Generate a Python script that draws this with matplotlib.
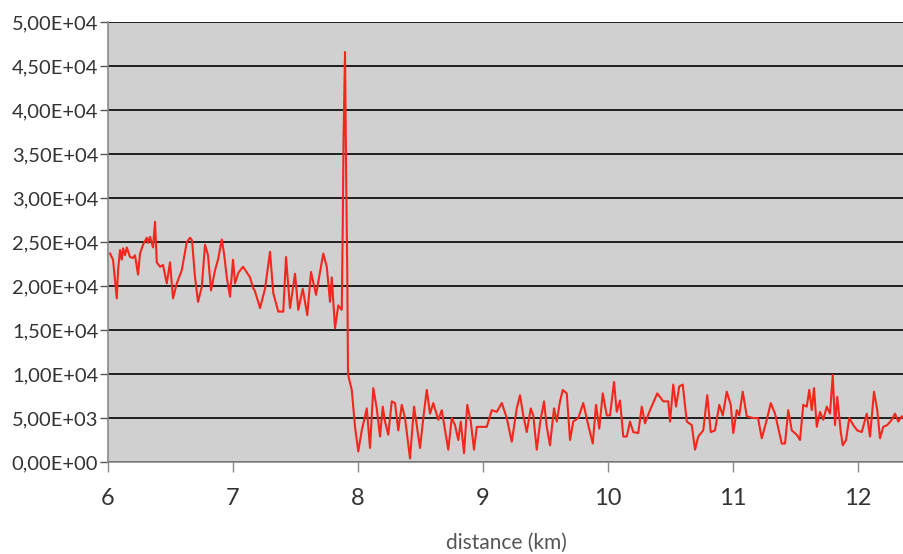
import numpy as np
import matplotlib
matplotlib.use("Agg")
import matplotlib.pyplot as plt
from matplotlib.ticker import FuncFormatter

# distance along the profile (km) and measured amplitude (x1000)
distance_km = [
    6.016, 6.040, 6.070, 6.080, 6.096, 6.110, 6.120, 6.136, 6.150, 6.176,
    6.200, 6.216, 6.240, 6.256, 6.280, 6.310, 6.320, 6.336, 6.360, 6.376,
    6.390, 6.416, 6.440, 6.470, 6.496, 6.520, 6.550, 6.590, 6.630, 6.656,
    6.672, 6.696, 6.720, 6.750, 6.776, 6.800, 6.824, 6.856, 6.880, 6.910,
    6.928, 6.950, 6.976, 7.000, 7.016, 7.042, 7.080, 7.136, 7.160, 7.176,
    7.216, 7.256, 7.296, 7.322, 7.362, 7.402, 7.424, 7.456, 7.496, 7.522,
    7.558, 7.594, 7.624, 7.664, 7.722, 7.750, 7.776, 7.790, 7.816, 7.842,
    7.870, 7.878, 7.884, 7.896, 7.904, 7.914, 7.920, 7.936, 7.950, 7.976,
    8.002, 8.030, 8.070, 8.096, 8.122, 8.150, 8.176, 8.198, 8.216, 8.242,
    8.270, 8.296, 8.322, 8.350, 8.376, 8.416, 8.448, 8.496, 8.528, 8.550,
    8.576, 8.602, 8.642, 8.670, 8.722, 8.750, 8.776, 8.802, 8.822, 8.848,
    8.874, 8.902, 8.928, 8.950, 9.030, 9.070, 9.110, 9.150, 9.190, 9.230,
    9.270, 9.296, 9.322, 9.350, 9.382, 9.402, 9.430, 9.456, 9.488, 9.510,
    9.536, 9.568, 9.590, 9.616, 9.638, 9.670, 9.696, 9.722, 9.762, 9.802,
    9.842, 9.878, 9.904, 9.930, 9.958, 9.990, 10.016, 10.048, 10.070, 10.096,
    10.122, 10.150, 10.176, 10.202, 10.242, 10.270, 10.296, 10.336, 10.394, 10.442,
    10.482, 10.496, 10.522, 10.544, 10.570, 10.598, 10.630, 10.670, 10.696, 10.722,
    10.762, 10.794, 10.822, 10.856, 10.890, 10.918, 10.950, 10.982, 11.002, 11.030,
    11.050, 11.078, 11.110, 11.162, 11.200, 11.230, 11.270, 11.302, 11.336, 11.390,
    11.416, 11.442, 11.470, 11.510, 11.536, 11.562, 11.590, 11.610, 11.630, 11.648,
    11.670, 11.696, 11.722, 11.750, 11.776, 11.798, 11.816, 11.834, 11.862, 11.878,
    11.904, 11.930, 11.962, 11.994, 12.030, 12.070, 12.096, 12.128, 12.154, 12.176,
    12.202, 12.234, 12.270, 12.296, 12.322, 12.350, 12.368,
]
amplitude_k = [
    23.7, 23.0, 18.6, 21.8, 24.1, 23.0, 24.3, 23.5, 24.4, 23.3,
    23.2, 23.5, 21.3, 23.7, 24.7, 25.5, 24.9, 25.6, 24.4, 27.3,
    22.7, 22.2, 22.4, 20.3, 22.7, 18.6, 20.3, 21.8, 25.0, 25.5,
    25.2, 21.0, 18.2, 19.9, 24.7, 23.5, 19.5, 21.8, 23.0, 25.3,
    23.7, 21.0, 18.8, 23.0, 20.3, 21.5, 22.2, 21.0, 19.8, 19.4,
    17.5, 19.7, 23.9, 19.2, 17.1, 17.1, 23.3, 17.5, 21.4, 17.3,
    19.7, 16.7, 21.6, 19.0, 23.7, 22.2, 18.2, 21.0, 15.2, 17.8,
    17.3, 27.1, 36.5, 46.6, 34.0, 21.5, 10.0, 9.0, 8.2, 4.0,
    1.2, 3.6, 6.1, 1.6, 8.4, 6.1, 2.9, 6.3, 4.6, 3.1,
    6.9, 6.7, 3.6, 6.5, 5.0, 0.4, 6.3, 1.6, 5.7, 8.2,
    5.5, 6.7, 4.8, 5.9, 1.4, 5.0, 4.2, 2.5, 4.6, 1.0,
    6.5, 4.6, 1.4, 4.0, 4.0, 5.9, 5.7, 6.7, 5.0, 2.3,
    6.1, 7.6, 5.3, 3.4, 6.1, 5.3, 1.4, 4.4, 6.9, 4.0,
    1.9, 6.1, 4.6, 6.9, 8.2, 7.8, 2.5, 4.6, 5.0, 6.7,
    4.2, 2.1, 6.5, 3.8, 7.8, 5.3, 5.3, 9.1, 5.7, 7.0,
    2.9, 2.9, 4.6, 3.4, 3.3, 6.3, 4.4, 5.9, 7.8, 6.9,
    6.9, 4.6, 8.8, 6.3, 8.6, 8.8, 4.6, 4.2, 1.4, 2.9,
    3.6, 7.6, 3.4, 3.6, 6.5, 5.3, 8.0, 6.5, 3.3, 5.9,
    5.3, 8.0, 5.2, 5.0, 5.0, 2.7, 4.8, 6.7, 5.5, 2.1,
    2.1, 5.9, 3.6, 3.1, 2.5, 6.5, 6.3, 8.2, 5.9, 8.4,
    4.0, 5.7, 4.8, 6.3, 5.5, 9.9, 4.2, 7.4, 3.4, 1.9,
    2.5, 5.0, 4.2, 3.6, 3.4, 5.5, 2.9, 8.0, 5.9, 2.7,
    4.0, 4.2, 4.8, 5.5, 4.6, 5.2, 5.0,
]

x = np.array(distance_km)
y = np.array(amplitude_k) * 1e3

fig = plt.figure(figsize=(9.04, 5.54), dpi=100)
ax = fig.add_axes([0.1195, 0.166, 0.8805, 0.794])
ax.set_facecolor("#d0d0d0")

ax.plot(x, y, color="#f5261c", lw=1.5, zorder=3)

ax.set_xlim(6, 12.368)
ax.set_ylim(0, 50000)
ax.set_xticks([6, 7, 8, 9, 10, 11, 12])
ax.set_yticks(np.arange(0, 50001, 5000))

def sci_comma(v, pos):
    s = "%.2E" % v
    return s.replace(".", ",")

ax.yaxis.set_major_formatter(FuncFormatter(sci_comma))

ax.grid(axis="y", color="#111111", lw=1.3, zorder=1)
ax.set_axisbelow(True)

for side in ["top", "right"]:
    ax.spines[side].set_visible(False)
ax.spines["left"].set_color("#8a8a8a")
ax.spines["bottom"].set_color("#8a8a8a")
ax.spines["left"].set_linewidth(1.2)
ax.spines["bottom"].set_linewidth(1.2)

ax.tick_params(axis="y", length=6, width=1, color="#555555", pad=1,
               labelsize=14.5, labelcolor="#333333")
ax.tick_params(axis="x", length=7, width=1, color="#8a8a8a", pad=12,
               labelsize=17, labelcolor="#333333")
for lab in ax.get_xticklabels() + ax.get_yticklabels():
    lab.set_family("Lato")

ax.set_xlabel("distance (km)", fontsize=15, color="#555555",
              family="Lato", labelpad=17)

fig.savefig("out.png", dpi=100)
